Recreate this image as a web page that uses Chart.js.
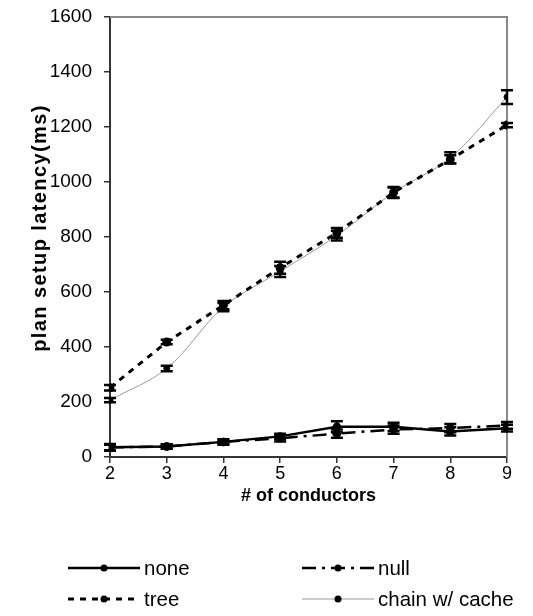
<!DOCTYPE html>
<html>
<head>
<meta charset="utf-8">
<script src="https://cdn.jsdelivr.net/npm/chart.js@4.4.1/dist/chart.umd.min.js"></script>
<style>
  html, body { margin: 0; padding: 0; background: #fff; }
  #wrap { width: 533px; height: 616px; position: relative; }
</style>
</head>
<body>
<div id="wrap"><canvas id="chart"></canvas></div>
<script>
// x 轴：conductor 数量
const conductors = [2, 3, 4, 5, 6, 7, 8, 9];

// 各配置的平均延迟 (ms) 与误差
const noneLatency  = [35, 38, 55, 75, 110, 110, 93, 105];
const noneErr      = [12, 8, 10, 10, 20, 15, 15, 12];
const nullLatency  = [35, 38, 55, 68, 85, 100, 105, 115];
const nullErr      = [10, 8, 8, 12, 15, 15, 15, 12];
const treeLatency  = [252, 418, 552, 688, 815, 962, 1082, 1207];
const treeErr      = [10, 8, 15, 22, 18, 18, 15, 8];
const chainLatency = [207, 322, 545, 675, 805, 962, 1088, 1309];
const chainErr     = [8, 10, 15, 20, 18, 20, 20, 25];

const yTicks = [0, 200, 400, 600, 800, 1000, 1200, 1400, 1600];
const yTitle = 'plan setup latency(ms)';

const FONT = 'Arial, "Liberation Sans", sans-serif';

function pts(vals) {
    return conductors.map((x, i) => ({ x: x, y: vals[i] }));
}

const seriesDefs = [
    { label: 'none',  data: noneLatency,  err: noneErr,  color: '#000', width: 2.5, dash: [] , tension: 0 },
    { label: 'null',  data: nullLatency,  err: nullErr,  color: '#000', width: 2.5, dash: [14, 6, 3, 6], tension: 0 },
    { label: 'tree',  data: treeLatency,  err: treeErr,  color: '#000', width: 3,   dash: [6, 6], tension: 0 },
    { label: 'chain w/ cache', data: chainLatency, err: chainErr, color: '#9a9a9a', width: 1, dash: [], tension: 0.35 }
];

// 绘图区灰色边框（上、右）
const framePlugin = {
    id: 'frame',
    beforeDatasetsDraw(chart) {
        const a = chart.chartArea;
        const ctx = chart.ctx;
        ctx.save();
        ctx.strokeStyle = '#888';
        ctx.lineWidth = 2;
        ctx.beginPath();
        ctx.moveTo(a.left, a.top);
        ctx.lineTo(a.right, a.top);
        ctx.lineTo(a.right, a.bottom);
        ctx.stroke();
        ctx.restore();
    }
};

// 误差线
const errorBarPlugin = {
    id: 'errorBars',
    afterDatasetsDraw(chart) {
        const ctx = chart.ctx;
        const xs = chart.scales.x, ys = chart.scales.y;
        ctx.save();
        ctx.strokeStyle = '#000';
        ctx.lineWidth = 2.5;
        ctx.setLineDash([]);
        chart.data.datasets.forEach(ds => {
            ds.data.forEach((p, i) => {
                const e = ds._err[i];
                const px = xs.getPixelForValue(p.x);
                const top = ys.getPixelForValue(p.y + e);
                const bot = ys.getPixelForValue(p.y - e);
                ctx.beginPath();
                ctx.moveTo(px, top); ctx.lineTo(px, bot);
                ctx.moveTo(px - 6, top); ctx.lineTo(px + 6, top);
                ctx.moveTo(px - 6, bot); ctx.lineTo(px + 6, bot);
                ctx.stroke();
            });
        });
        ctx.restore();
    }
};

// y 轴标题（字距较宽，自己画）
const yTitlePlugin = {
    id: 'yTitle',
    afterDraw(chart) {
        const ctx = chart.ctx;
        ctx.save();
        ctx.translate(40, 228);
        ctx.rotate(-Math.PI / 2);
        ctx.font = 'bold 20px ' + FONT;
        ctx.letterSpacing = '1.4px';
        ctx.fillStyle = '#000';
        ctx.textAlign = 'center';
        ctx.textBaseline = 'middle';
        ctx.fillText(yTitle, 0, 0);
        ctx.restore();
    }
};

// 底部两列图例
const legendPlugin = {
    id: 'bottomLegend',
    afterDraw(chart) {
        const ctx = chart.ctx;
        const slots = [
            { x: 68,  y: 568 }, { x: 302, y: 568 },
            { x: 68,  y: 599 }, { x: 302, y: 599 }
        ];
        ctx.save();
        chart.data.datasets.forEach((ds, i) => {
            const s = slots[i];
            ctx.strokeStyle = ds.borderColor;
            ctx.lineWidth = ds.borderWidth;
            ctx.setLineDash(ds.borderDash);
            ctx.beginPath();
            ctx.moveTo(s.x, s.y);
            ctx.lineTo(s.x + 72, s.y);
            ctx.stroke();
            ctx.setLineDash([]);
            ctx.fillStyle = '#000';
            ctx.beginPath();
            ctx.arc(s.x + 36, s.y, 3.5, 0, Math.PI * 2);
            ctx.fill();
            ctx.font = '20.5px ' + FONT;
            ctx.textBaseline = 'middle';
            ctx.fillText(ds.label, s.x + 76, s.y + 1);
        });
        ctx.restore();
    }
};

new Chart(document.getElementById('chart'), {
    type: 'line',
    data: {
        datasets: seriesDefs.map(d => ({
            label: d.label,
            data: pts(d.data),
            _err: d.err,
            borderColor: d.color,
            borderWidth: d.width,
            borderDash: d.dash,
            tension: d.tension,
            pointRadius: 3,
            pointBackgroundColor: '#000',
            pointBorderColor: '#000',
            fill: false
        }))
    },
    options: {
        responsive: true,
        maintainAspectRatio: false,
        animation: false,
        layout: { padding: { left: 23, top: 17, right: 26, bottom: 109 } },
        plugins: {
            legend: { display: false },
            tooltip: { enabled: false }
        },
        scales: {
            x: {
                type: 'linear',
                min: 2,
                max: 9,
                afterFit(scale) { scale.height = 50; },
                afterBuildTicks(scale) { scale.ticks = conductors.map(v => ({ value: v })); },
                grid: { drawOnChartArea: false, tickLength: 6, color: '#333', lineWidth: 1.5 },
                border: { color: '#333', width: 2 },
                ticks: { color: '#000', font: { family: FONT, size: 18 }, padding: 0, callback: v => String(v) },
                title: { display: true, text: '# of conductors', color: '#000', font: { family: FONT, size: 18, weight: 'bold' }, padding: { top: 4, bottom: 0 } }
            },
            y: {
                min: 0,
                max: 1600,
                afterFit(scale) { scale.width = 87; scale.paddingTop = 0; scale.paddingBottom = 0; },
                afterBuildTicks(scale) { scale.ticks = yTicks.map(v => ({ value: v })); },
                grid: { drawOnChartArea: false, tickLength: 6, color: '#333', lineWidth: 1.5 },
                border: { color: '#333', width: 2 },
                ticks: { color: '#000', font: { family: FONT, size: 19 }, padding: 12, callback: v => String(v) },
                title: { display: false }
            }
        }
    },
    plugins: [framePlugin, errorBarPlugin, yTitlePlugin, legendPlugin]
});
</script>
</body>
</html>
